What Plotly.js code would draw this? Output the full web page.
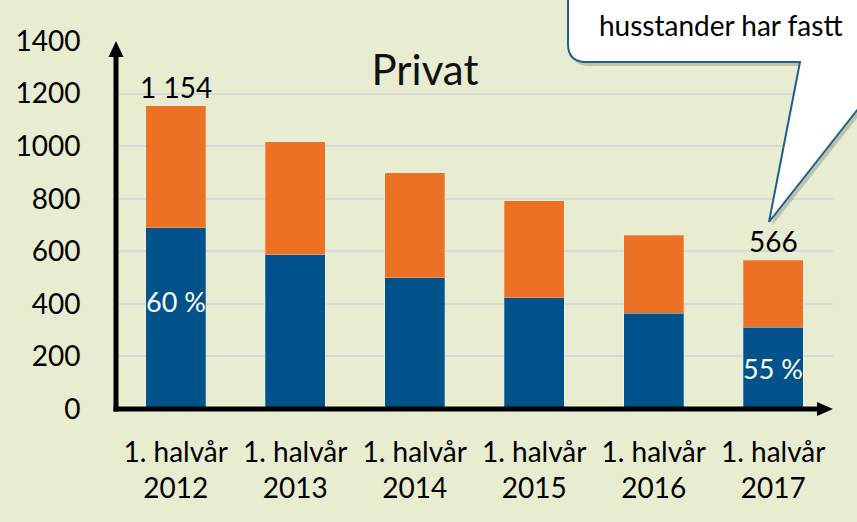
<!DOCTYPE html>
<html>
<head>
<meta charset="utf-8">
<script src="https://cdn.plot.ly/plotly-3.0.1.min.js"></script>
<style>html,body{margin:0;padding:0;background:#E8ECD1;}#chart{width:857px;height:522px;}</style>
</head>
<body>
<div id="chart"></div>
<script>
// ---- data ----
const categories = ["1. halvår<br>2012","1. halvår<br>2013","1. halvår<br>2014","1. halvår<br>2015","1. halvår<br>2016","1. halvår<br>2017"];
const blueValues = [690, 587, 500, 424, 364, 311];
const orangeValues = [464, 429, 399, 368, 297, 255];
const totalLabels = ["1 154", "", "", "", "", "566"];
const pctLabels = ["60 %", "", "", "", "", "55 %"];
const yTickVals = [0, 200, 400, 600, 800, 1000, 1200, 1400];
const calloutText = "husstander har fastt";

// ---- layout helpers (pixel -> paper) ----
const W = 857, H = 522, L = 116, R = 24, T = 41, B = 113;
const PW = W - L - R, PH = H - T - B;
const px = x => ((x - L) / PW).toFixed(5);
const py = y => ((H - B - y) / PH).toFixed(5);

const FONT = 'Lato, "Noto Sans", sans-serif';
const BLUE = '#00538A', ORANGE = '#EC7125', BG = '#E8ECD1';

const totals = blueValues.map((b, i) => b + orangeValues[i]);

const traces = [
  {type: 'bar', x: categories, y: blueValues, marker: {color: BLUE, line: {color: 'rgba(255,255,255,0.25)', width: 1}}, name: 'blå', hoverinfo: 'skip'},
  {type: 'bar', x: categories, y: orangeValues, marker: {color: ORANGE, line: {color: 'rgba(255,255,255,0.25)', width: 1}}, name: 'oransje', hoverinfo: 'skip'}
];

const annotations = [];
categories.forEach((c, i) => {
  if (totalLabels[i]) annotations.push({x: c, y: totals[i], xref: 'x', yref: 'y', text: totalLabels[i], showarrow: false, yanchor: 'bottom', yshift: 0, font: {family: FONT, size: 28, color: '#000'}});
  if (pctLabels[i]) annotations.push({x: c, y: blueValues[i] / 2 + (i === 0 ? 63 : 0), xref: 'x', yref: 'y', text: pctLabels[i], showarrow: false, yanchor: 'middle', font: {family: FONT, size: 27, color: '#fff'}});
});
// callout text
annotations.push({xref: 'paper', yref: 'paper', x: px(597), y: py(25), xanchor: 'left', yanchor: 'middle', text: calloutText, showarrow: false, font: {family: FONT, size: 28, color: '#000'}});

const calloutPts = [[568,-30],[568,44],['Q',568,62,586,62],[800,62],[769,222],[895,62],[980,62],[980,-30]];
function calloutPath(dx, dy) {
  let s = '';
  calloutPts.forEach((p, k) => {
    if (p[0] === 'Q') {
      s += ' Q ' + px(p[1] + dx) + ',' + py(p[2] + dy) + ' ' + px(p[3] + dx) + ',' + py(p[4] + dy);
    } else {
      s += (k === 0 ? 'M ' : ' L ') + px(p[0] + dx) + ',' + py(p[1] + dy);
    }
  });
  return s + ' Z';
}

const shapes = [
  // callout shadow
  {type: 'path', xref: 'paper', yref: 'paper', path: calloutPath(3, 4), fillcolor: 'rgba(0,0,0,0.18)', line: {width: 0}, layer: 'above'},
  // callout
  {type: 'path', xref: 'paper', yref: 'paper', path: calloutPath(0, 0), fillcolor: '#FFFFFF', line: {color: '#1F5F8F', width: 2}, layer: 'above'},
  // y axis line
  {type: 'line', xref: 'paper', yref: 'paper', x0: px(116), x1: px(116), y0: py(411.5), y1: py(54), line: {color: '#000', width: 5}, layer: 'above'},
  {type: 'path', xref: 'paper', yref: 'paper', path: 'M ' + px(108.5) + ',' + py(57) + ' L ' + px(116) + ',' + py(41) + ' L ' + px(123.5) + ',' + py(57) + ' Z', fillcolor: '#000', line: {width: 0}, layer: 'above'},
  // x axis line
  {type: 'line', xref: 'paper', yref: 'paper', x0: px(113.5), x1: px(820), y0: py(409), y1: py(409), line: {color: '#000', width: 5}, layer: 'above'},
  {type: 'path', xref: 'paper', yref: 'paper', path: 'M ' + px(817) + ',' + py(402) + ' L ' + px(833) + ',' + py(409) + ' L ' + px(817) + ',' + py(416) + ' Z', fillcolor: '#000', line: {width: 0}, layer: 'above'}
];

const layout = {
  width: W, height: H,
  margin: {l: L, r: R, t: T, b: B, pad: 0},
  paper_bgcolor: BG, plot_bgcolor: BG,
  barmode: 'stack', bargap: 0.5,
  showlegend: false,
  font: {family: FONT, color: '#000'},
  title: {text: 'Privat', xref: 'paper', x: px(425), xanchor: 'center', yref: 'container', y: 1 - 70 / H, yanchor: 'middle', font: {family: FONT, size: 42, color: '#111'}},
  xaxis: {type: 'category', range: [-0.5, 5.5], showgrid: false, zeroline: false, showline: false,
    ticks: 'outside', ticklen: 18, tickcolor: 'rgba(0,0,0,0)', tickfont: {family: FONT, size: 28, color: '#000'}, fixedrange: true},
  yaxis: {range: [0, 1400], tickvals: yTickVals, ticktext: yTickVals.map(String), showgrid: true, gridcolor: '#D8D9D4', gridwidth: 2,
    zeroline: false, showline: false, ticks: 'outside', ticklen: 29, tickcolor: 'rgba(0,0,0,0)',
    tickfont: {family: FONT, size: 28, color: '#000'}, fixedrange: true},
  shapes: shapes,
  annotations: annotations
};

Plotly.newPlot('chart', traces, layout, {staticPlot: true, displayModeBar: false});
</script>
</body>
</html>
